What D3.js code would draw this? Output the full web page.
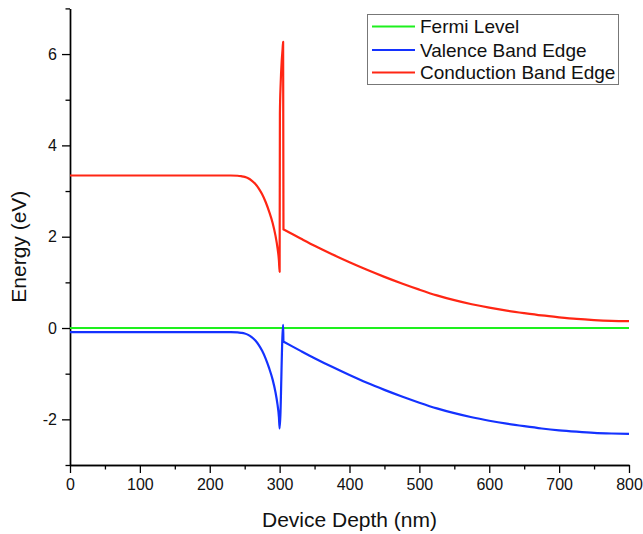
<!DOCTYPE html>
<html>
<head>
<meta charset="utf-8">
<script src="https://cdn.jsdelivr.net/npm/d3@7"></script>
<style>
  html, body { margin: 0; padding: 0; background: #fff; }
  svg { display: block; font-family: "Liberation Sans", Arial, sans-serif; }
</style>
</head>
<body>
<svg id="chart" width="643" height="534"></svg>
<script>
// ---- data ----
const seriesNames = ["Fermi Level", "Valence Band Edge", "Conduction Band Edge"];
const fermiDepth = [0, 800];
const fermiEnergy = [0, 0];
const vbDepth = [0, 100, 200, 230, 240, 245, 250, 255, 260, 265, 270, 275, 280, 285, 290, 294, 297, 299, 300, 305, 305.5, 306.5, 330, 350, 375, 400, 425, 450, 475, 500, 525, 550, 575, 600, 625, 650, 675, 700, 725, 750, 775, 800];
const vbEnergy = [-0.09, -0.09, -0.09, -0.09, -0.095, -0.105, -0.12, -0.15, -0.2, -0.27, -0.37, -0.5, -0.67, -0.88, -1.13, -1.4, -1.68, -1.95, -2.2, 0.07, -0.3, -0.308, -0.5, -0.66, -0.85, -1.03, -1.2, -1.355, -1.5, -1.635, -1.76, -1.865, -1.955, -2.03, -2.095, -2.15, -2.2, -2.24, -2.27, -2.295, -2.31, -2.32];
const cbDepth = [0, 100, 200, 230, 240, 245, 250, 255, 260, 265, 270, 275, 280, 285, 290, 294, 297, 299, 300, 300.4, 301.5, 303, 304.2, 305, 305.5, 306.5, 330, 350, 375, 400, 425, 450, 475, 500, 525, 550, 575, 600, 625, 650, 675, 700, 725, 750, 775, 800];
const cbEnergy = [3.34, 3.34, 3.34, 3.34, 3.335, 3.325, 3.31, 3.28, 3.23, 3.16, 3.06, 2.93, 2.76, 2.55, 2.3, 2.03, 1.75, 1.48, 1.23, 4.7, 5.35, 5.85, 6.1, 6.27, 2.16, 2.152, 1.96, 1.8, 1.615, 1.44, 1.275, 1.12, 0.975, 0.84, 0.715, 0.61, 0.52, 0.445, 0.38, 0.325, 0.275, 0.235, 0.2, 0.175, 0.158, 0.15];
const xMajorTicks = [0, 100, 200, 300, 400, 500, 600, 700, 800];
const xMinorTicks = [50, 150, 250, 350, 450, 550, 650, 750];
const yMajorTicks = [-2, 0, 2, 4, 6];
const yMinorTicks = [-3, -1, 1, 3, 5, 7];
const colors = ["#1ef01e", "#1432ff", "#ff2614"];
const xTitle = "Device Depth (nm)";
const yTitle = "Energy (eV)";

// ---- layout ----
const svg = d3.select("#chart");
const mLeft = 70, mRight = 629, mTop = 8.4, mBottom = 465;
const x = d3.scaleLinear().domain([0, 800]).range([mLeft, mRight]);
const y = d3.scaleLinear().domain([-3, 7]).range([mBottom, mTop]);

svg.append("rect").attr("width", 643).attr("height", 534).attr("fill", "#fff");

// axes
const axisColor = "#000";
const gxMinor = svg.append("g").attr("transform", `translate(0,${mBottom})`)
  .call(d3.axisBottom(x).tickValues(xMinorTicks).tickFormat("").tickSize(4.5).tickSizeOuter(0));
const gx = svg.append("g").attr("transform", `translate(0,${mBottom})`)
  .call(d3.axisBottom(x).tickValues(xMajorTicks).tickFormat(d3.format("d")).tickSize(8).tickSizeOuter(0).tickPadding(6));
const gyMinor = svg.append("g").attr("transform", `translate(${mLeft},0)`)
  .call(d3.axisLeft(y).tickValues(yMinorTicks).tickFormat("").tickSize(4.5).tickSizeOuter(0));
const gy = svg.append("g").attr("transform", `translate(${mLeft},0)`)
  .call(d3.axisLeft(y).tickValues(yMajorTicks).tickFormat(d3.format("d")).tickSize(8).tickSizeOuter(0).tickPadding(5));

[gx, gy, gxMinor, gyMinor].forEach(g => {
  g.selectAll(".domain").attr("stroke", axisColor).attr("stroke-width", 1.4);
  g.selectAll(".tick line").attr("stroke", axisColor).attr("stroke-width", 1.3);
  g.selectAll(".tick text").attr("fill", "#111").attr("font-size", 16)
    .attr("font-family", "'Liberation Sans', Arial, sans-serif");
});
gy.selectAll(".tick text").text(d => d < 0 ? "-" + Math.abs(d) : d);

// titles
svg.append("text").attr("x", (mLeft + mRight) / 2).attr("y", 527)
  .attr("text-anchor", "middle").attr("font-size", 21).attr("fill", "#111").text(xTitle);
svg.append("text").attr("transform", `translate(26,${(mTop + mBottom) / 2 + 10}) rotate(-90)`)
  .attr("text-anchor", "middle").attr("font-size", 21).attr("fill", "#111").text(yTitle);

// lines
const line = d3.line().x(d => x(d[0])).y(d => y(d[1])).curve(d3.curveMonotoneX);
const series = [
  d3.zip(fermiDepth, fermiEnergy),
  d3.zip(vbDepth, vbEnergy),
  d3.zip(cbDepth, cbEnergy)
];
series.forEach((s, i) => {
  svg.append("path").datum(s).attr("d", line)
    .attr("fill", "none").attr("stroke", colors[i]).attr("stroke-width", 2.2)
    .attr("stroke-linejoin", "round");
});

// legend
const lg = svg.append("g");
lg.append("rect").attr("x", 367.5).attr("y", 14.5).attr("width", 251).attr("height", 70)
  .attr("fill", "#fff").attr("stroke", "#777").attr("stroke-width", 1);
const rowsY = [26.5, 50, 72.5];
seriesNames.forEach((name, i) => {
  lg.append("line").attr("x1", 372).attr("x2", 415).attr("y1", rowsY[i]).attr("y2", rowsY[i])
    .attr("stroke", colors[i]).attr("stroke-width", 2.2);
  lg.append("text").attr("x", 420).attr("y", rowsY[i] + 6.8)
    .attr("font-size", 19).attr("fill", "#111").text(name);
});
</script>
</body>
</html>
